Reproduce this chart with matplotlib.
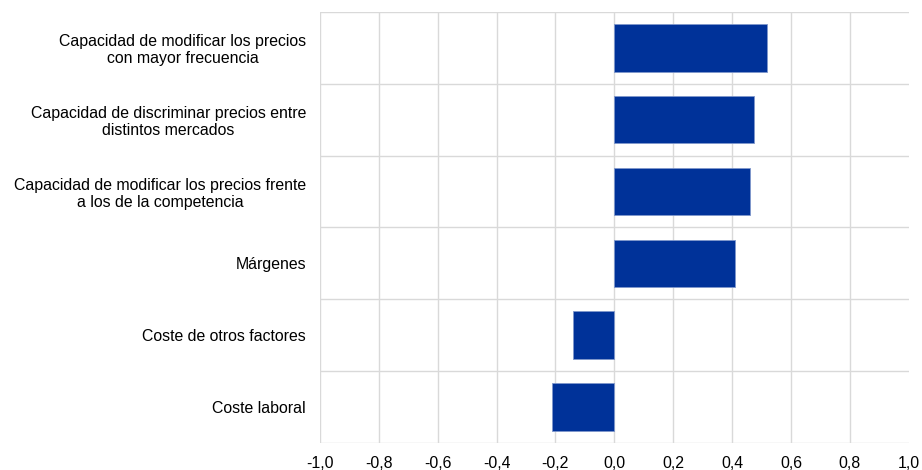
import matplotlib.pyplot as plt
import numpy as np

plt.rcParams.update({
    'font.family': ['Liberation Sans', 'DejaVu Sans'],
    'font.size': 11.4,
})

categories = [
    'Capacidad de modificar los precios\ncon mayor frecuencia',
    'Capacidad de discriminar precios entre\ndistintos mercados',
    'Capacidad de modificar los precios frente\na los de la competencia',
    'Márgenes',
    'Coste de otros factores',
    'Coste laboral',
]
values = [0.52, 0.475, 0.46, 0.41, -0.14, -0.21]
xticks = [-1.0, -0.8, -0.6, -0.4, -0.2, 0.0, 0.2, 0.4, 0.6, 0.8, 1.0]

grid_col = '#d9d9d9'
bar_col = '#003299'

fig = plt.figure(figsize=(9.22, 4.70), dpi=100)
ax = fig.add_axes([0.347, 0.058, 0.6385, 0.9165])

y = np.arange(len(categories))
ax.barh(y, values, height=0.66, color=bar_col, edgecolor='#7f97cc', linewidth=0.6, zorder=3)

ax.set_ylim(len(categories) - 0.5, -0.5)
ax.set_xlim(-1.0, 1.0)

# category separators and value gridlines
for b in np.arange(-0.5, len(categories), 1.0):
    ax.axhline(b, color=grid_col, linewidth=1.0, zorder=1)
for t in xticks[:-1]:
    ax.axvline(t, color=grid_col, linewidth=1.0, zorder=1)

ax.set_yticks(y)
ax.set_yticklabels(categories, multialignment='center', linespacing=1.15)
ax.set_xticks(xticks)
ax.set_xticklabels([f'{t:.1f}'.replace('.', ',') for t in xticks])
ax.tick_params(axis='both', length=0, colors='black')
ax.tick_params(axis='y', pad=10)
ax.tick_params(axis='x', pad=9.5)

for s in ax.spines.values():
    s.set_visible(False)

fig.savefig('out.png', dpi=100)
